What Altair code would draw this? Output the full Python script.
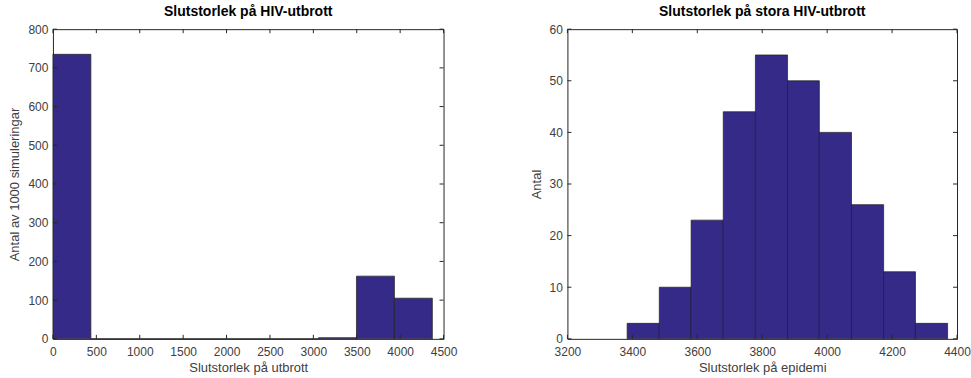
import altair as alt
import pandas as pd

# Left histogram: all simulations
left_start = [0, 437, 874, 1311, 1748, 2185, 2622, 3060, 3497, 3934]
left_end = [437, 874, 1311, 1748, 2185, 2622, 3060, 3497, 3934, 4371]
left_count = [735, 0, 0, 0, 0, 0, 0, 3, 162, 105]
left_xticks = [0, 500, 1000, 1500, 2000, 2500, 3000, 3500, 4000, 4500]
left_yticks = [0, 100, 200, 300, 400, 500, 600, 700, 800]

# Right histogram: large outbreaks only
right_start = [3384, 3483, 3581, 3680, 3779, 3878, 3976, 4075, 4174, 4272]
right_end = [3483, 3581, 3680, 3779, 3878, 3976, 4075, 4174, 4272, 4371]
right_count = [3, 10, 23, 44, 55, 50, 40, 26, 13, 3]
right_xticks = [3200, 3400, 3600, 3800, 4000, 4200, 4400]
right_yticks = [0, 10, 20, 30, 40, 50, 60]

FONT = "Liberation Sans"
BAR = "#352a87"
AX = "#262626"
LBL = "#404040"
TICK = 4


def hist(start, end, count, xdomain, xticks, ydomain, yticks, title, xtitle, ytitle, w, h):
    df = pd.DataFrame({"start": start, "end": end, "count": count})
    xs = alt.Scale(domain=xdomain, nice=False, zero=False)
    ys = alt.Scale(domain=ydomain, nice=False)
    xax = alt.Axis(values=xticks, title=xtitle, format="d", grid=False, domain=False,
                   ticks=False, labelPadding=8, titlePadding=4, labelFlush=False,
                   labelFont=FONT, labelFontSize=12, labelColor=LBL,
                   titleFont=FONT, titleFontSize=13, titleColor=LBL, titleFontWeight="normal")
    yax = alt.Axis(values=yticks, title=ytitle, format="d", grid=False, domain=False,
                   ticks=False, labelPadding=5, titlePadding=6,
                   labelFont=FONT, labelFontSize=12, labelColor=LBL,
                   titleFont=FONT, titleFontSize=13, titleColor=LBL, titleFontWeight="normal")
    bars = alt.Chart(df).mark_bar(color=BAR, stroke="#1e1e1e", strokeWidth=0.7).encode(
        x=alt.X("start:Q", scale=xs, axis=xax),
        x2="end:Q",
        y=alt.Y("count:Q", scale=ys, axis=yax),
        y2=alt.datum(0),
    )
    xt = pd.DataFrame({"start": xticks})
    yt = pd.DataFrame({"count": yticks})
    tb = alt.Chart(xt).mark_rule(color=AX, strokeWidth=1).encode(
        x=alt.X("start:Q", scale=xs, axis=xax), y=alt.value(h), y2=alt.value(h - TICK))
    tt = alt.Chart(xt).mark_rule(color=AX, strokeWidth=1).encode(
        x=alt.X("start:Q", scale=xs, axis=xax), y=alt.value(0), y2=alt.value(TICK))
    tl = alt.Chart(yt).mark_rule(color=AX, strokeWidth=1).encode(
        y=alt.Y("count:Q", scale=ys, axis=yax), x=alt.value(0), x2=alt.value(TICK))
    tr = alt.Chart(yt).mark_rule(color=AX, strokeWidth=1).encode(
        y=alt.Y("count:Q", scale=ys, axis=yax), x=alt.value(w), x2=alt.value(w - TICK))
    return alt.layer(bars, tb, tt, tl, tr).properties(
        width=w, height=h,
        title=alt.TitleParams(title, fontSize=14, fontWeight="bold", font=FONT,
                              color="#000000", offset=4),
    )


left = hist(left_start, left_end, left_count, [0, 4500], left_xticks, [0, 800], left_yticks,
            "Slutstorlek på HIV-utbrott", "Slutstorlek på utbrott",
            "Antal av 1000 simuleringar", 391, 310)
right = hist(right_start, right_end, right_count, [3200, 4400], right_xticks, [0, 60], right_yticks,
             "Slutstorlek på stora HIV-utbrott", "Slutstorlek på epidemi",
             "Antal", 390, 310)

chart = alt.hconcat(left, right, spacing=72).properties(
    padding={"left": 8, "top": 4, "right": 0, "bottom": 0},
    background="white",
).configure_view(
    stroke=AX, strokeWidth=1
)

chart.save("out.html", embed_options={"renderer": "svg", "actions": False})
